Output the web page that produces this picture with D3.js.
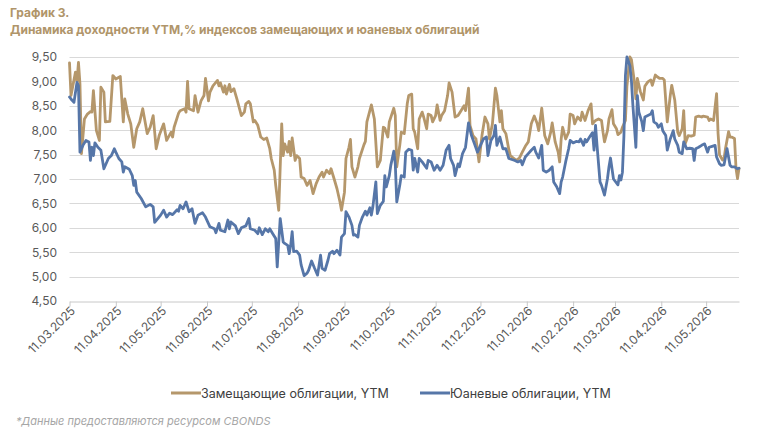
<!DOCTYPE html>
<head>
  <meta charset="utf-8">
  <title>YTM chart</title>
</head>
<style>
html, body {
  margin: 0;
  padding: 0;
  background: #ffffff;
}
svg text {
  font-family: Inter, "Liberation Sans", sans-serif;
}
.title {
  fill: #b0956a;
  font-weight: 700;
  font-size: 12px;
}
.grid line {
  stroke: #d9d9d9;
  stroke-width: 1px;
}
.axis text {
  fill: #595959;
  font-size: 12px;
}
.axis path, .axis line {
  stroke: #c8c8c8;
}
.legend text {
  fill: #404040;
  font-size: 12.5px;
}
.note {
  fill: #a6a6a6;
  font-size: 11px;
  font-style: italic;
}
.series {
  fill: none;
  stroke-width: 2.8px;
  stroke-linejoin: round;
  stroke-linecap: round;
}
</style>

<svg width="782" height="437"></svg>

<script src="https://d3js.org/d3.v7.min.js"></script>
<script>
// values, [date, YTM %]
var goldPoints = [
  ["2025-03-11",9.38],["2025-03-12",8.71],["2025-03-15",9.19],["2025-03-16",9.0],["2025-03-17",9.39],["2025-03-18",8.95],
  ["2025-03-19",7.52],["2025-03-21",8.23],["2025-03-23",8.33],["2025-03-25",8.38],["2025-03-26",8.37],["2025-03-27",8.81],
  ["2025-03-29",7.99],["2025-03-31",7.79],["2025-04-01",8.88],["2025-04-03",8.78],["2025-04-04",8.17],["2025-04-07",8.18],
  ["2025-04-09",9.12],["2025-04-11",9.05],["2025-04-14",9.1],["2025-04-16",8.17],["2025-04-17",8.64],["2025-04-19",8.33],
  ["2025-04-21",8.13],["2025-04-23",7.65],["2025-04-25",8.03],["2025-04-27",8.17],["2025-04-29",8.44],["2025-05-02",7.93],
  ["2025-05-04",8.06],["2025-05-06",8.3],["2025-05-08",7.62],["2025-05-10",7.89],["2025-05-13",8.13],["2025-05-15",7.79],
  ["2025-05-18",7.96],["2025-05-19",7.86],["2025-05-20",8.06],["2025-05-23",8.35],["2025-05-24",8.4],["2025-05-27",8.44],
  ["2025-05-28",8.37],["2025-05-29",9.0],["2025-05-30",8.44],["2025-06-02",8.4],["2025-06-03",8.71],["2025-06-05",8.37],
  ["2025-06-07",8.6],["2025-06-09",8.71],["2025-06-10",9.06],["2025-06-12",8.6],["2025-06-13",8.78],["2025-06-15",8.91],
  ["2025-06-18",9.02],["2025-06-19",8.91],["2025-06-20",8.97],["2025-06-22",8.78],["2025-06-23",8.91],["2025-06-24",8.74],
  ["2025-06-26",8.94],["2025-06-27",8.79],["2025-06-29",8.85],["2025-07-01",8.64],["2025-07-04",8.3],["2025-07-06",8.37],
  ["2025-07-07",8.54],["2025-07-09",8.59],["2025-07-10",8.54],["2025-07-12",8.17],["2025-07-13",8.2],["2025-07-15",8.1],
  ["2025-07-17",7.86],["2025-07-19",7.81],["2025-07-21",7.84],["2025-07-23",7.62],["2025-07-24",7.42],["2025-07-26",7.18],
  ["2025-07-27",6.87],["2025-07-29",6.36],["2025-07-31",8.13],["2025-08-01",7.48],["2025-08-02",7.72],["2025-08-04",7.55],
  ["2025-08-05",7.77],["2025-08-06",7.48],["2025-08-07",7.84],["2025-08-09",7.38],["2025-08-10",7.48],["2025-08-12",7.42],
  ["2025-08-13",7.04],["2025-08-15",7.01],["2025-08-17",6.87],["2025-08-19",6.97],["2025-08-21",6.7],["2025-08-23",6.9],
  ["2025-08-25",7.04],["2025-08-27",7.14],["2025-08-28",7.04],["2025-08-30",7.18],["2025-09-01",7.11],["2025-09-02",7.21],
  ["2025-09-04",7.01],["2025-09-06",6.8],["2025-09-08",6.53],["2025-09-09",6.36],["2025-09-11",6.73],["2025-09-12",7.42],
  ["2025-09-14",7.65],["2025-09-15",7.81],["2025-09-16",7.25],["2025-09-18",7.04],["2025-09-20",7.25],["2025-09-21",7.42],
  ["2025-09-24",7.7],["2025-09-25",7.77],["2025-09-26",8.17],["2025-09-29",8.52],["2025-10-01",8.23],["2025-10-03",7.25],
  ["2025-10-05",7.38],["2025-10-07",8.06],["2025-10-08",8.04],["2025-10-10",7.86],["2025-10-11",8.17],["2025-10-14",8.45],
  ["2025-10-15",8.3],["2025-10-16",7.25],["2025-10-18",7.69],["2025-10-19",7.96],["2025-10-21",7.93],["2025-10-23",8.54],
  ["2025-10-24",8.71],["2025-10-26",8.74],["2025-10-27",8.03],["2025-10-28",7.96],["2025-10-30",7.62],["2025-10-31",8.23],
  ["2025-11-02",8.37],["2025-11-03",8.27],["2025-11-05",8.03],["2025-11-06",8.33],["2025-11-08",8.3],["2025-11-09",8.17],
  ["2025-11-11",8.3],["2025-11-12",8.52],["2025-11-14",8.2],["2025-11-15",8.3],["2025-11-17",8.4],["2025-11-19",8.71],
  ["2025-11-20",8.97],["2025-11-22",8.78],["2025-11-24",8.27],["2025-11-26",8.3],["2025-11-28",8.4],["2025-11-30",8.5],
  ["2025-12-01",8.4],["2025-12-03",8.86],["2025-12-04",8.1],["2025-12-06",7.89],["2025-12-08",7.82],["2025-12-10",7.35],
  ["2025-12-12",7.89],["2025-12-14",8.27],["2025-12-16",8.13],["2025-12-17",7.82],["2025-12-19",8.13],["2025-12-21",8.86],
  ["2025-12-22",8.71],["2025-12-24",8.17],["2025-12-25",8.4],["2025-12-26",8.03],["2025-12-28",7.93],["2025-12-30",7.6],
  ["2025-12-31",7.48],["2026-01-02",7.43],["2026-01-04",7.38],["2026-01-06",7.43],["2026-01-08",7.55],["2026-01-10",7.67],
  ["2026-01-12",7.76],["2026-01-14",8.13],["2026-01-16",8.29],["2026-01-18",8.13],["2026-01-19",7.99],["2026-01-21",8.45],
  ["2026-01-23",7.89],["2026-01-25",7.72],["2026-01-27",7.96],["2026-01-28",8.15],["2026-01-30",7.76],["2026-02-01",7.55],
  ["2026-02-02",7.35],["2026-02-03",7.82],["2026-02-04",8.06],["2026-02-06",7.82],["2026-02-08",7.96],["2026-02-09",8.33],
  ["2026-02-11",8.3],["2026-02-12",8.13],["2026-02-14",8.27],["2026-02-16",8.2],["2026-02-17",8.37],["2026-02-19",8.2],
  ["2026-02-21",8.4],["2026-02-23",8.54],["2026-02-24",8.13],["2026-02-26",8.2],["2026-02-28",8.23],["2026-03-02",8.2],
  ["2026-03-03",7.96],["2026-03-04",7.76],["2026-03-06",7.99],["2026-03-07",8.23],["2026-03-09",8.42],["2026-03-10",8.13],
  ["2026-03-12",8.03],["2026-03-13",7.91],["2026-03-15",7.96],["2026-03-16",8.06],["2026-03-18",8.2],["2026-03-19",8.9],
  ["2026-03-21",9.5],["2026-03-22",9.45],["2026-03-24",8.99],["2026-03-25",8.64],["2026-03-26",9.06],["2026-03-28",8.79],
  ["2026-03-30",8.62],["2026-03-31",8.9],["2026-04-02",8.99],["2026-04-04",9.03],["2026-04-05",8.92],["2026-04-07",9.13],
  ["2026-04-08",9.1],["2026-04-10",9.06],["2026-04-12",9.06],["2026-04-13",9.03],["2026-04-15",8.17],["2026-04-17",8.71],
  ["2026-04-18",8.92],["2026-04-20",8.62],["2026-04-22",7.96],["2026-04-23",7.89],["2026-04-25",8.03],["2026-04-26",8.4],
  ["2026-04-27",7.72],["2026-04-29",7.89],["2026-05-01",7.88],["2026-05-03",7.9],["2026-05-04",8.27],["2026-05-06",8.29],
  ["2026-05-08",8.27],["2026-05-09",8.29],["2026-05-12",8.27],["2026-05-13",8.2],["2026-05-14",8.23],["2026-05-16",8.2],
  ["2026-05-18",8.75],["2026-05-19",7.93],["2026-05-20",7.49],["2026-05-22",7.39],["2026-05-23",7.42],["2026-05-24",7.63],
  ["2026-05-26",7.97],["2026-05-27",7.86],["2026-05-28",7.86],["2026-05-30",7.83],["2026-05-31",7.22],["2026-06-01",7.01],
  ["2026-06-02",7.22]
];

var bluePoints = [
  ["2025-03-11",8.68],["2025-03-12",8.64],["2025-03-14",8.57],["2025-03-16",8.98],["2025-03-17",8.91],["2025-03-18",7.55],
  ["2025-03-20",7.69],["2025-03-22",7.79],["2025-03-24",7.76],["2025-03-25",7.38],["2025-03-26",7.65],["2025-03-27",7.48],
  ["2025-03-28",7.74],["2025-03-30",7.65],["2025-04-01",7.59],["2025-04-03",7.21],["2025-04-06",7.42],["2025-04-08",7.48],
  ["2025-04-10",7.62],["2025-04-11",7.55],["2025-04-13",7.42],["2025-04-15",7.35],["2025-04-16",7.14],["2025-04-17",7.25],
  ["2025-04-20",7.2],["2025-04-22",7.07],["2025-04-23",6.87],["2025-04-24",6.97],["2025-04-25",6.73],["2025-04-28",6.6],
  ["2025-05-01",6.43],["2025-05-04",6.48],["2025-05-06",6.43],["2025-05-07",6.11],["2025-05-11",6.26],["2025-05-13",6.36],
  ["2025-05-15",6.22],["2025-05-17",6.3],["2025-05-19",6.27],["2025-05-22",6.37],["2025-05-23",6.34],["2025-05-24",6.46],
  ["2025-05-26",6.39],["2025-05-28",6.53],["2025-05-30",6.33],["2025-06-01",6.39],["2025-06-03",6.09],["2025-06-05",6.26],
  ["2025-06-08",6.31],["2025-06-10",6.22],["2025-06-13",6.02],["2025-06-16",5.98],["2025-06-17",5.9],["2025-06-19",6.09],
  ["2025-06-20",5.95],["2025-06-23",5.92],["2025-06-25",6.16],["2025-06-26",5.98],["2025-06-27",6.12],["2025-06-30",6.04],
  ["2025-07-02",5.88],["2025-07-04",6.0],["2025-07-07",6.04],["2025-07-09",6.19],["2025-07-10",5.98],["2025-07-13",5.95],
  ["2025-07-15",5.88],["2025-07-16",6.0],["2025-07-18",5.86],["2025-07-20",5.98],["2025-07-22",5.92],["2025-07-23",5.98],
  ["2025-07-25",5.88],["2025-07-27",5.78],["2025-07-28",5.2],["2025-07-30",6.19],["2025-08-01",5.71],["2025-08-02",5.68],
  ["2025-08-04",5.64],["2025-08-05",5.47],["2025-08-06",5.64],["2025-08-07",5.92],["2025-08-08",5.51],["2025-08-10",5.52],
  ["2025-08-12",5.44],["2025-08-13",5.24],["2025-08-15",5.02],["2025-08-17",5.07],["2025-08-18",5.13],["2025-08-20",5.32],
  ["2025-08-22",5.17],["2025-08-24",5.03],["2025-08-26",5.44],["2025-08-27",5.17],["2025-08-29",5.13],["2025-08-31",5.34],
  ["2025-09-01",5.47],["2025-09-03",5.52],["2025-09-04",5.47],["2025-09-06",5.54],["2025-09-08",5.44],["2025-09-09",5.81],
  ["2025-09-11",5.88],["2025-09-12",6.33],["2025-09-14",6.22],["2025-09-16",6.05],["2025-09-17",5.85],["2025-09-18",5.86],
  ["2025-09-20",5.81],["2025-09-21",6.05],["2025-09-23",6.22],["2025-09-25",6.34],["2025-09-26",6.26],["2025-09-28",6.41],
  ["2025-09-29",6.26],["2025-09-30",6.43],["2025-10-02",6.94],["2025-10-03",6.29],["2025-10-05",6.46],["2025-10-07",6.54],
  ["2025-10-08",7.07],["2025-10-09",6.84],["2025-10-11",7.07],["2025-10-12",7.28],["2025-10-14",7.57],["2025-10-15",7.31],
  ["2025-10-16",6.53],["2025-10-18",6.87],["2025-10-19",7.07],["2025-10-21",7.04],["2025-10-22",7.55],["2025-10-24",7.61],
  ["2025-10-26",7.59],["2025-10-27",7.18],["2025-10-28",7.42],["2025-10-30",7.14],["2025-10-31",7.42],["2025-11-02",7.35],
  ["2025-11-05",7.22],["2025-11-06",7.38],["2025-11-08",7.35],["2025-11-10",7.18],["2025-11-12",7.28],["2025-11-14",7.18],
  ["2025-11-16",7.28],["2025-11-18",7.59],["2025-11-20",7.69],["2025-11-21",7.42],["2025-11-23",7.28],["2025-11-24",7.07],
  ["2025-11-26",7.31],["2025-11-27",7.25],["2025-11-29",7.52],["2025-12-01",7.65],["2025-12-03",8.15],["2025-12-05",7.89],
  ["2025-12-07",7.72],["2025-12-09",7.55],["2025-12-11",7.69],["2025-12-13",7.82],["2025-12-15",7.86],["2025-12-16",7.48],
  ["2025-12-18",7.79],["2025-12-20",7.89],["2025-12-21",8.1],["2025-12-22",7.69],["2025-12-24",7.86],["2025-12-26",7.62],
  ["2025-12-28",7.62],["2025-12-30",7.42],["2026-01-01",7.4],["2026-01-03",7.38],["2026-01-05",7.35],["2026-01-07",7.38],
  ["2026-01-08",7.29],["2026-01-10",7.45],["2026-01-12",7.52],["2026-01-14",7.59],["2026-01-16",7.65],["2026-01-17",7.55],
  ["2026-01-19",7.43],["2026-01-21",7.69],["2026-01-22",7.18],["2026-01-24",7.14],["2026-01-26",7.18],["2026-01-28",7.25],
  ["2026-01-29",6.94],["2026-01-31",6.84],["2026-02-02",6.7],["2026-02-03",6.94],["2026-02-04",7.04],["2026-02-06",7.35],
  ["2026-02-08",7.62],["2026-02-09",7.79],["2026-02-11",7.74],["2026-02-13",7.77],["2026-02-15",7.76],["2026-02-16",7.82],
  ["2026-02-18",7.69],["2026-02-19",7.81],["2026-02-20",7.76],["2026-02-22",7.86],["2026-02-24",7.95],["2026-02-25",7.59],
  ["2026-02-26",8.1],["2026-02-27",7.69],["2026-03-01",6.94],["2026-03-02",6.87],["2026-03-04",6.67],["2026-03-06",7.01],
  ["2026-03-07",7.25],["2026-03-08",7.43],["2026-03-10",7.0],["2026-03-13",6.88],["2026-03-14",7.07],["2026-03-15",6.98],
  ["2026-03-16",7.14],["2026-03-17",7.89],["2026-03-18",9.12],["2026-03-19",9.5],["2026-03-21",9.32],["2026-03-22",9.02],
  ["2026-03-23",8.51],["2026-03-25",7.65],["2026-03-26",8.71],["2026-03-27",8.37],["2026-03-29",8.17],["2026-03-30",7.99],
  ["2026-03-31",8.27],["2026-04-02",8.3],["2026-04-04",8.33],["2026-04-05",8.4],["2026-04-06",8.17],["2026-04-08",8.13],
  ["2026-04-09",8.06],["2026-04-11",8.13],["2026-04-12",7.99],["2026-04-14",7.89],["2026-04-15",7.59],["2026-04-17",7.82],
  ["2026-04-19",7.99],["2026-04-20",7.82],["2026-04-22",7.69],["2026-04-23",7.55],["2026-04-25",7.52],["2026-04-26",7.76],
  ["2026-04-28",7.62],["2026-04-30",7.63],["2026-05-02",7.62],["2026-05-03",7.38],["2026-05-04",7.62],["2026-05-06",7.65],
  ["2026-05-08",7.69],["2026-05-10",7.72],["2026-05-12",7.55],["2026-05-13",7.65],["2026-05-15",7.67],["2026-05-17",7.69],
  ["2026-05-18",7.45],["2026-05-20",7.31],["2026-05-21",7.28],["2026-05-23",7.29],["2026-05-25",7.62],["2026-05-27",7.28],
  ["2026-05-28",7.25],["2026-05-30",7.25],["2026-06-01",7.21],["2026-06-02",7.22]
];

var xTickDates = ["2025-03-11","2025-04-11","2025-05-11","2025-06-11","2025-07-11","2025-08-11","2025-09-11",
  "2025-10-11","2025-11-11","2025-12-11","2026-01-11","2026-02-11","2026-03-11","2026-04-11","2026-05-11"];
var yTicks = [4.5, 5.0, 5.5, 6.0, 6.5, 7.0, 7.5, 8.0, 8.5, 9.0, 9.5];
var seriesNames = ["Замещающие облигации, YTM", "Юаневые облигации, YTM"];
var seriesColors = ["#b5976b", "#5676a8"];

var parse = d3.timeParse("%Y-%m-%d");
var fmtTick = d3.timeFormat("%d.%m.%Y");

var svg = d3.select("svg");

// title
svg.append("text").attr("class", "title").attr("x", 10).attr("y", 17).text("График 3.");
svg.append("text").attr("class", "title").attr("x", 10).attr("y", 34)
  .text("Динамика доходности YTM,% индексов замещающих и юаневых облигаций");

var x = d3.scaleTime()
  .domain([parse("2025-03-11"), parse("2026-06-02")])
  .range([69.5, 739]);

var y = d3.scaleLinear()
  .domain([4.5, 9.5])
  .range([301, 57]);

// horizontal grid
svg.append("g").attr("class", "grid")
  .selectAll("line")
  .data(yTicks.slice(1))
  .enter().append("line")
    .attr("x1", 69.5).attr("x2", 739)
    .attr("y1", function(d) { return Math.round(y(d)) + 0.5; })
    .attr("y2", function(d) { return Math.round(y(d)) + 0.5; });

// y axis (labels only)
var yAxis = svg.append("g")
  .attr("class", "axis")
  .attr("transform", "translate(60,0)")
  .call(d3.axisLeft(y).tickValues(yTicks).tickSize(0)
    .tickFormat(function(d) { return d3.format(".2f")(d).replace(".", ","); }));
yAxis.select(".domain").remove();

// x axis
var xAxis = svg.append("g")
  .attr("class", "axis")
  .attr("transform", "translate(0," + (Math.round(y(4.5)) + 0.5) + ")")
  .call(d3.axisBottom(x).tickValues(xTickDates.map(parse)).tickSize(5).tickSizeOuter(0)
    .tickFormat(fmtTick));
xAxis.selectAll("text")
  .attr("text-anchor", "end")
  .attr("dy", null)
  .attr("y", 0)
  .attr("transform", "translate(6,10) rotate(-45)");

// series
var line = d3.line()
  .x(function(d) { return x(parse(d[0])); })
  .y(function(d) { return y(d[1]); });

[goldPoints, bluePoints].forEach(function(pts, i) {
  svg.append("path")
    .attr("class", "series")
    .attr("stroke", seriesColors[i])
    .attr("d", line(pts));
});

// legend
var legend = svg.append("g").attr("class", "legend");
var legendX = [171, 420];
seriesNames.forEach(function(name, i) {
  legend.append("line")
    .attr("x1", legendX[i]).attr("x2", legendX[i] + 30)
    .attr("y1", 393).attr("y2", 393)
    .attr("stroke", seriesColors[i]).attr("stroke-width", 3);
  legend.append("text")
    .attr("x", legendX[i] + 30).attr("y", 397.5)
    .text(name);
});

// source note
svg.append("text").attr("class", "note").attr("x", 16).attr("y", 425)
  .text("*Данные предоставляются ресурсом CBONDS");
</script>
